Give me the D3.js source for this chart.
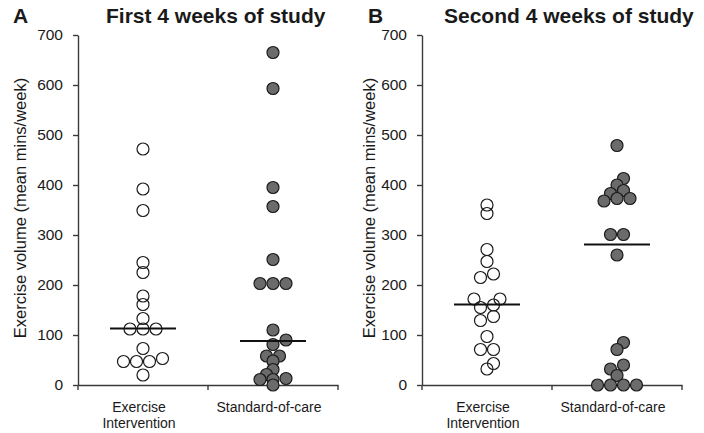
<!DOCTYPE html>
<html>
<head>
<meta charset="utf-8">
<script src="https://cdn.jsdelivr.net/npm/d3@7"></script>
<style>
    body { margin: 0; background: #fff; }
    svg text { font-family: "Liberation Sans", Arial, sans-serif; fill: #1a1a1a; }
</style>
</head>
<body>
<div id="chart"></div>
<script>
// data
const categories = ["Exercise Intervention", "Standard-of-care"];
const yTicks = [0, 100, 200, 300, 400, 500, 600, 700];
const panelLetters = ["A", "B"];
const panelTitles = ["First 4 weeks of study", "Second 4 weeks of study"];
const yLabel = "Exercise volume (mean mins/week)";

const firstExercise = [472, 392, 349, 245, 225, 178, 161, 133, 112, 112, 112, 73, 53, 47, 47, 47, 20];
const firstStandard = [665, 593, 395, 357, 251, 203, 203, 203, 110, 90, 81, 58, 58, 48, 31, 21, 13, 11, 11, 0];
const secondExercise = [360, 343, 271, 247, 222, 215, 172, 172, 160, 155, 137, 129, 97, 71, 71, 43, 32];
const secondStandard = [479, 413, 400, 389, 383, 373, 373, 368, 301, 301, 260, 85, 71, 40, 32, 19, 0, 0, 0, 0];
const firstMedians = [113, 88];
const secondMedians = [161, 281];

const svg = d3.select("#chart").append("svg")
    .attr("width", 704)
    .attr("height", 433);

// simple row/swarm layout: close values share a row, others dodge sideways
function swarmOffsets(values, y, r) {
    let sorted = values.map((v, i) => ({ v: v, i: i })).sort((a, b) => a.v - b.v);
    let placed = [];
    let out = new Array(values.length);
    let minDist = 8;
    let fits = cands => cands.every(c => placed.every(p => Math.hypot(p.x - c.x, p.y - c.y) >= minDist));
    let k = 0;
    while (k < sorted.length) {
        let group = [sorted[k]];
        let j = k + 1;
        while (j < sorted.length && Math.abs(y(sorted[j].v) - y(sorted[k].v)) <= 4) {
            group.push(sorted[j]);
            j++;
        }
        let n = group.length;
        let chosen = null;
        if (n === 1) {
            let py = y(group[0].v);
            for (let m = 0; m < 30 && !chosen; m++) {
                let off = m === 0 ? 0 : Math.ceil(m / 2) * r * (m % 2 ? 1 : -1);
                let c = [{ x: off, y: py }];
                if (fits(c)) chosen = c;
            }
            if (!chosen) chosen = [{ x: 0, y: py }];
        } else {
            let row = s => group.map((g, i) => ({ x: (i - (n - 1) / 2) * s, y: y(g.v) }));
            for (let s = 2 * r; !chosen && s < 8 * r; s += r) {
                if (fits(row(s))) chosen = row(s);
            }
            if (!chosen) chosen = row(2 * r);
        }
        chosen.forEach((c, i) => { placed.push(c); out[group[i].i] = c.x; });
        k = j;
    }
    return out;
}

class DotPanelVis {
    constructor(_svg, _layout, _letter, _title, _series, _medians) {
        this.svg = _svg;
        this.layout = _layout;
        this.letter = _letter;
        this.title = _title;
        this.series = _series;
        this.medians = _medians;

        this.initVis();
    }

    initVis() {
        let vis = this;
        let L = vis.layout;

        vis.y = d3.scaleLinear().domain([0, 700]).range([385, 35]);
        vis.x = d3.scaleBand().domain(categories).range([L.left, L.left + 260]);

        vis.g = vis.svg.append("g");

        // titles
        vis.g.append("text")
            .attr("x", L.letterX).attr("y", 23)
            .attr("font-size", 21).attr("font-weight", "bold")
            .text(vis.letter);
        vis.g.append("text")
            .attr("x", L.titleX).attr("y", 23)
            .attr("font-size", 21).attr("font-weight", "bold")
            .text(vis.title);

        // y axis
        let yAxis = d3.axisLeft(vis.y).tickValues(yTicks).tickSize(5).tickSizeOuter(0).tickPadding(10);
        vis.g.append("g")
            .attr("transform", "translate(" + L.left + ",0)")
            .call(yAxis)
            .attr("font-size", 15.5)
            .attr("font-family", null)
            .call(g => g.selectAll("path,line").attr("stroke", "#3a3a3a").attr("stroke-width", 1.4))
            .call(g => g.selectAll("text").attr("fill", "#1a1a1a"));

        vis.g.append("text")
            .attr("transform", "translate(" + L.yLabelX + ",208) rotate(-90)")
            .attr("text-anchor", "middle")
            .attr("font-size", 16.5)
            .text(yLabel);

        // x axis (ticks sit on band edges)
        let xAxis = d3.axisBottom(vis.x).tickSize(0).tickFormat("");
        vis.g.append("g")
            .attr("transform", "translate(0,385)")
            .call(xAxis)
            .call(g => g.selectAll("path").attr("stroke", "#3a3a3a").attr("stroke-width", 1.4));

        let edges = categories.map(c => vis.x(c)).concat([vis.x.range()[1]]);
        vis.g.selectAll(".xedge").data(edges).enter().append("line")
            .attr("class", "xedge")
            .attr("x1", d => d).attr("x2", d => d)
            .attr("y1", 385).attr("y2", 390)
            .attr("stroke", "#3a3a3a").attr("stroke-width", 1.4);

        let labels = vis.g.selectAll(".xlab").data(categories).enter().append("text")
            .attr("class", "xlab")
            .attr("text-anchor", "middle")
            .attr("font-size", 14)
            .attr("y", 412);
        labels.each(function (d) {
            let words = d === "Exercise Intervention" ? ["Exercise", "Intervention"] : [d];
            d3.select(this).selectAll("tspan").data(words).enter().append("tspan")
                .attr("x", vis.x(d) + vis.x.bandwidth() / 2 - 4)
                .attr("dy", (w, i) => i === 0 ? 0 : 16)
                .text(w => w);
        });

        vis.wrangleData();
    }

    wrangleData() {
        let vis = this;

        vis.displayData = [];
        vis.series.forEach((vals, si) => {
            let offs = swarmOffsets(vals, vis.y, 6.5);
            vals.forEach((v, i) => {
                vis.displayData.push({ cat: categories[si], value: v, dx: offs[i], filled: si === 1 });
            });
        });

        vis.updateVis();
    }

    updateVis() {
        let vis = this;
        let cx = c => vis.x(c) + vis.x.bandwidth() / 2;

        vis.g.selectAll(".dot").data(vis.displayData).enter().append("circle")
            .attr("class", "dot")
            .attr("cx", d => cx(d.cat) + d.dx)
            .attr("cy", d => vis.y(d.value))
            .attr("r", 6)
            .attr("fill", d => d.filled ? "#6b6b6b" : "none")
            .attr("stroke", "#1a1a1a")
            .attr("stroke-width", 1.2);

        vis.g.selectAll(".median").data(vis.medians).enter().append("line")
            .attr("class", "median")
            .attr("x1", (d, i) => cx(categories[i]) - 33)
            .attr("x2", (d, i) => cx(categories[i]) + 33)
            .attr("y1", d => vis.y(d)).attr("y2", d => vis.y(d))
            .attr("stroke", "#111")
            .attr("stroke-width", 2);
    }
}

new DotPanelVis(svg, { left: 78, letterX: 13, titleX: 106, yLabelX: 26 },
    panelLetters[0], panelTitles[0], [firstExercise, firstStandard], firstMedians);
new DotPanelVis(svg, { left: 422, letterX: 368, titleX: 444, yLabelX: 375 },
    panelLetters[1], panelTitles[1], [secondExercise, secondStandard], secondMedians);
</script>
</body>
</html>
